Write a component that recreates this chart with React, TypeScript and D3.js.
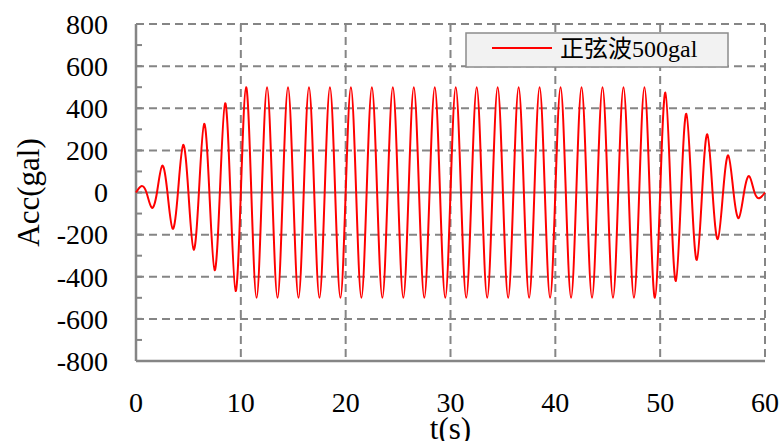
import React from "react";
import * as d3 from "d3";

// Peak / trough accelerations (gal) of each half cycle, centred at t = 0.5, 1.5, ... 59.5 s
const rampUpPeaks = [30, -72, 127, -172, 226, -271, 326, -369, 424, -468];
const steadyPeaks = [
  500, -500, 500, -500, 500, -500, 500, -500, 500, -500,
  500, -500, 500, -500, 500, -500, 500, -500, 500, -500,
  500, -500, 500, -500, 500, -500, 500, -500, 500, -500,
  500, -500, 500, -500, 500, -500, 500, -500, 500, -500,
];
const rampDownPeaks = [474, -420, 374, -320, 276, -221, 176, -121, 77, -26];

const xTicks = [0, 10, 20, 30, 40, 50, 60];
const yTicks = [-800, -600, -400, -200, 0, 200, 400, 600, 800];
const yMinorTicks = d3.range(-800, 801, 100);
const seriesName = "正弦波500gal";

const W = 784;
const H = 441;
const M = { left: 136, right: 765, top: 24, bottom: 361 };
const FONT = "Liberation Serif, DejaVu Serif, serif";
const GRID = "#858585";

export default function App() {
  const x = d3.scaleLinear().domain([0, 60]).range([M.left, M.right]);
  const y = d3.scaleLinear().domain([-800, 800]).range([M.bottom, M.top]);

  const peaks = [...rampUpPeaks, ...steadyPeaks, ...rampDownPeaks];
  // zero crossings at whole seconds, extremes at half seconds
  const pts: [number, number][] = [];
  peaks.forEach((v, i) => {
    pts.push([i, 0]);
    pts.push([i + 0.5, v]);
  });
  pts.push([peaks.length, 0]);

  const line = d3
    .line<[number, number]>()
    .x((d) => x(d[0]))
    .y((d) => y(d[1]))
    .curve(d3.curveNatural);

  const tickStyle = { fontFamily: FONT, fontSize: 28, fill: "#000" };
  const titleStyle = { fontFamily: FONT, fontSize: 31, fill: "#000" };

  return (
    <svg
      width={W}
      height={H}
      style={{ position: "absolute", left: 0, top: 0, background: "#fff" }}
    >
      {/* dashed grid */}
      {yTicks
        .filter((v) => v !== 0 && v !== -800)
        .map((v) => (
          <line
            key={"gy" + v}
            x1={M.left}
            x2={M.right}
            y1={y(v)}
            y2={y(v)}
            stroke={GRID}
            strokeWidth={2}
            strokeDasharray="8,5"
          />
        ))}
      {xTicks
        .filter((v) => v !== 0)
        .map((v) => (
          <line
            key={"gx" + v}
            x1={x(v)}
            x2={x(v)}
            y1={M.top}
            y2={M.bottom}
            stroke={GRID}
            strokeWidth={2}
            strokeDasharray="8,5"
          />
        ))}
      {/* zero line */}
      <line x1={M.left} x2={M.right} y1={y(0)} y2={y(0)} stroke={GRID} strokeWidth={2} />

      {/* solid axes */}
      <line x1={M.left} x2={M.left} y1={M.top} y2={M.bottom} stroke={GRID} strokeWidth={2.5} />
      <line x1={M.left} x2={M.right} y1={M.bottom} y2={M.bottom} stroke={GRID} strokeWidth={2.5} />
      {yMinorTicks.map((v) => (
        <line
          key={"t" + v}
          x1={M.left}
          x2={M.left + 6}
          y1={y(v)}
          y2={y(v)}
          stroke={GRID}
          strokeWidth={2}
        />
      ))}

      {/* signal */}
      <path d={line(pts) || ""} fill="none" stroke="#ff0000" strokeWidth={2} />

      {/* tick labels */}
      {yTicks.map((v) => (
        <text
          key={"ly" + v}
          x={108}
          y={y(v)}
          dy="0.35em"
          textAnchor="end"
          style={tickStyle}
        >
          {String(v)}
        </text>
      ))}
      {xTicks.map((v) => (
        <text
          key={"lx" + v}
          x={x(v)}
          y={402}
          dy="0.35em"
          textAnchor="middle"
          style={tickStyle}
        >
          {String(v)}
        </text>
      ))}

      {/* axis titles */}
      <text x={(M.left + M.right) / 2} y={439} textAnchor="middle" style={titleStyle}>
        t(s)
      </text>
      <text
        transform={`translate(29, ${y(0)}) rotate(-90)`}
        dy="0.33em"
        textAnchor="middle"
        style={titleStyle}
      >
        Acc(gal)
      </text>

      {/* legend */}
      <rect x={466} y={33} width={262} height={34} fill="#f2f2f2" stroke="#8c8c8c" strokeWidth={1.5} />
      <line x1={492} x2={552} y1={48} y2={48} stroke="#ff0000" strokeWidth={2} />
      <text
        x={560}
        y={57}
        style={{ fontFamily: `${FONT}, Noto Sans CJK SC`, fontSize: 24, fill: "#000" }}
      >
        {seriesName}
      </text>
    </svg>
  );
}
